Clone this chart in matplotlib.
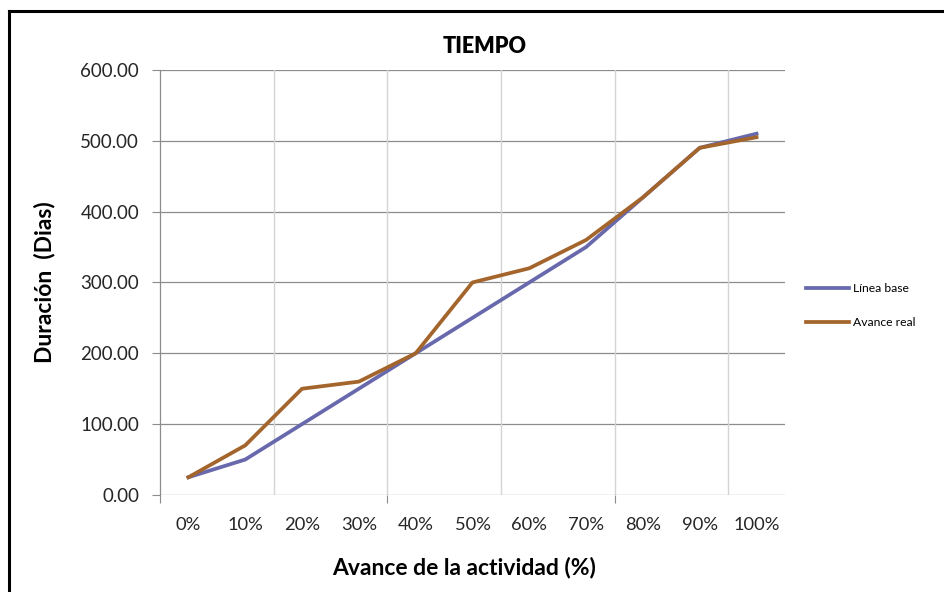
import numpy as np
import matplotlib
matplotlib.use('Agg')
import matplotlib.pyplot as plt
from matplotlib.lines import Line2D

plt.rcParams['font.family'] = ['Lato', 'DejaVu Sans']

# data
categorias = ['0%', '10%', '20%', '30%', '40%', '50%', '60%', '70%', '80%', '90%', '100%']
linea_base = [25, 50, 100, 150, 200, 250, 300, 350, 420, 490, 510]
avance_real = [25, 70, 150, 160, 200, 300, 320, 360, 420, 490, 505]
y_ticks = [0, 100, 200, 300, 400, 500, 600]

fig = plt.figure(figsize=(9.44, 5.92), dpi=100)
ax = fig.add_axes([0.1695, 0.1639, 0.662, 0.718])

x = np.arange(len(categorias))
ax.plot(x, linea_base, color='#6868AC', lw=2.7, solid_joinstyle='round', label='Línea base')
ax.plot(x, avance_real, color='#A4652C', lw=2.7, solid_joinstyle='round', label='Avance real')

ax.set_xlim(-0.5, len(categorias) - 0.5)
ax.set_ylim(0, 600)

# gridlines: horizontal every 100, vertical every 2 categories
for v in y_ticks:
    ax.axhline(v, color='#8c8c8c', lw=0.9, zorder=0)
for b in np.arange(1.5, len(categorias), 2):
    ax.axvline(b, color='#d4d4d4', lw=1.0, zorder=0)

for s in ['top', 'right', 'bottom']:
    ax.spines[s].set_visible(False)
ax.spines['left'].set_color('#8c8c8c')
ax.spines['left'].set_linewidth(0.9)

ax.set_yticks(y_ticks)
ax.set_yticklabels([f'{v:.2f}' for v in y_ticks])
ax.tick_params(axis='y', length=6, color='#8c8c8c', labelsize=13.5, labelcolor='#262626', pad=9)

# category labels on minor ticks, tick marks at every 4 boundaries
ax.set_xticks([-0.5, 3.5, 7.5])
ax.set_xticklabels([])
ax.tick_params(axis='x', which='major', length=6, color='#8c8c8c')
ax.set_xticks(x, minor=True)
ax.set_xticklabels(categorias, minor=True)
ax.tick_params(axis='x', which='minor', length=0, labelsize=13.2, labelcolor='#262626', pad=16)

ax.set_xlabel('Avance de la actividad (%)', fontsize=16.5, fontweight='bold')
ax.xaxis.set_label_coords(0.487, -0.145)
ax.set_ylabel('Duración  (Dias)', fontsize=16.5, fontweight='bold', labelpad=18)
ax.set_title('TIEMPO', fontsize=15.5, fontweight='heavy', pad=12, x=0.52)

leg = fig.legend(loc='center left', bbox_to_anchor=(0.842, 0.484), frameon=False,
                 fontsize=8.7, handlelength=3.6, handletextpad=0.3, labelspacing=1.9)

# outer frame (left and top edges only visible)
fig.add_artist(Line2D([0.0095, 0.0095], [0, 0.982], transform=fig.transFigure, color='black', lw=2.2))
fig.add_artist(Line2D([0.0095, 1.0], [0.982, 0.982], transform=fig.transFigure, color='black', lw=2.2))

fig.savefig('out.png', dpi=100)
